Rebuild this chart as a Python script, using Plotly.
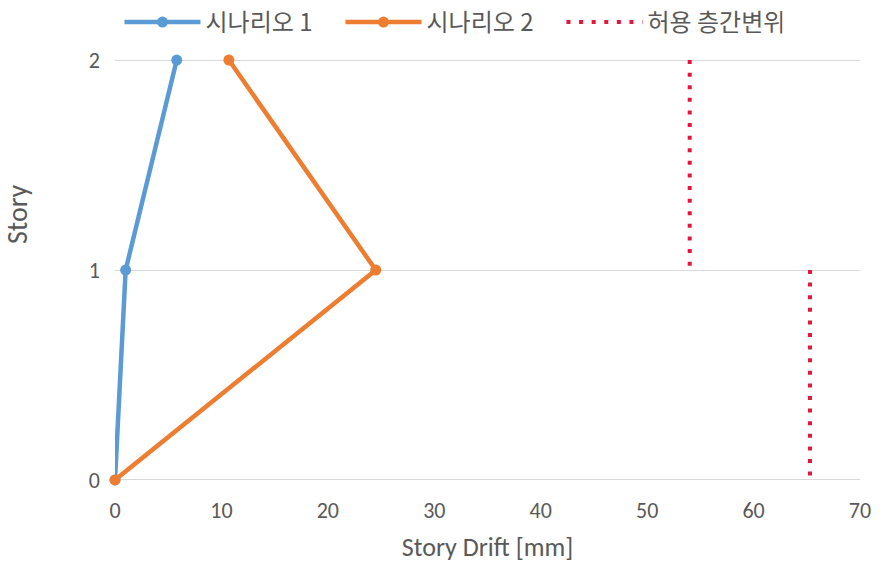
import plotly.graph_objects as go

# Story levels and drift values [mm]
stories = [0, 1, 2]
scenario1_drift = [0, 1.0, 5.8]
scenario2_drift = [0, 24.5, 10.7]

# Allowable story drift per story segment (upper: 2-1, lower: 1-0)
allow_x = [54.0, 54.0, None, 65.3, 65.3]
allow_y = [2, 1, None, 1, 0]

x_ticks = [0, 10, 20, 30, 40, 50, 60, 70]
y_ticks = [0, 1, 2]

text_color = "#595959"
font_family = "Carlito, Calibri, 'Noto Sans CJK KR', sans-serif"
kr_family = "'Noto Sans CJK KR', sans-serif"

fig = go.Figure()
fig.add_trace(go.Scatter(
    x=scenario1_drift, y=stories, name="시나리오 1", mode="lines+markers",
    line=dict(color="#5B9BD5", width=4.5), marker=dict(size=11, color="#5B9BD5"),
    cliponaxis=False,
))
fig.add_trace(go.Scatter(
    x=scenario2_drift, y=stories, name="시나리오 2", mode="lines+markers",
    line=dict(color="#ED7D31", width=4.5), marker=dict(size=11, color="#ED7D31"),
    cliponaxis=False,
))
fig.add_trace(go.Scatter(
    x=allow_x, y=allow_y, name="허용 층간변위", mode="lines",
    line=dict(color="#E3173E", width=4, dash="4px,8.6px"),
    connectgaps=False, cliponaxis=False,
))

fig.update_layout(
    width=881, height=572,
    margin=dict(l=115, r=21, t=59, b=91, autoexpand=False),
    paper_bgcolor="white", plot_bgcolor="white",
    font=dict(family=font_family, size=22, color=text_color),
    showlegend=True,
    legend=dict(
        orientation="h", x=0.006, xanchor="left", y=1.0, yanchor="top",
        yref="container", font=dict(family=kr_family, size=24, color=text_color),
        itemwidth=76, entrywidth=130, entrywidthmode="pixels",
    ),
    annotations=[
        dict(text="Story", xref="paper", yref="paper", x=-0.130, y=0.633,
             textangle=-90, showarrow=False, xanchor="center", yanchor="middle",
             font=dict(family=font_family, size=28, color=text_color)),
    ],
)

fig.update_xaxes(
    range=[0, 70], tickvals=x_ticks, showgrid=False, zeroline=False,
    showline=False, ticks="", ticklabelstandoff=14,
    title=dict(text="Story Drift [mm]", standoff=14,
               font=dict(size=26, color=text_color)),
)
fig.update_yaxes(
    range=[-0.005, 2.005], tickvals=y_ticks, showgrid=True, gridcolor="#D9D9D9",
    gridwidth=1, zeroline=False, showline=False, ticks="", ticklabelstandoff=14,
)

fig.write_html("out.html")
